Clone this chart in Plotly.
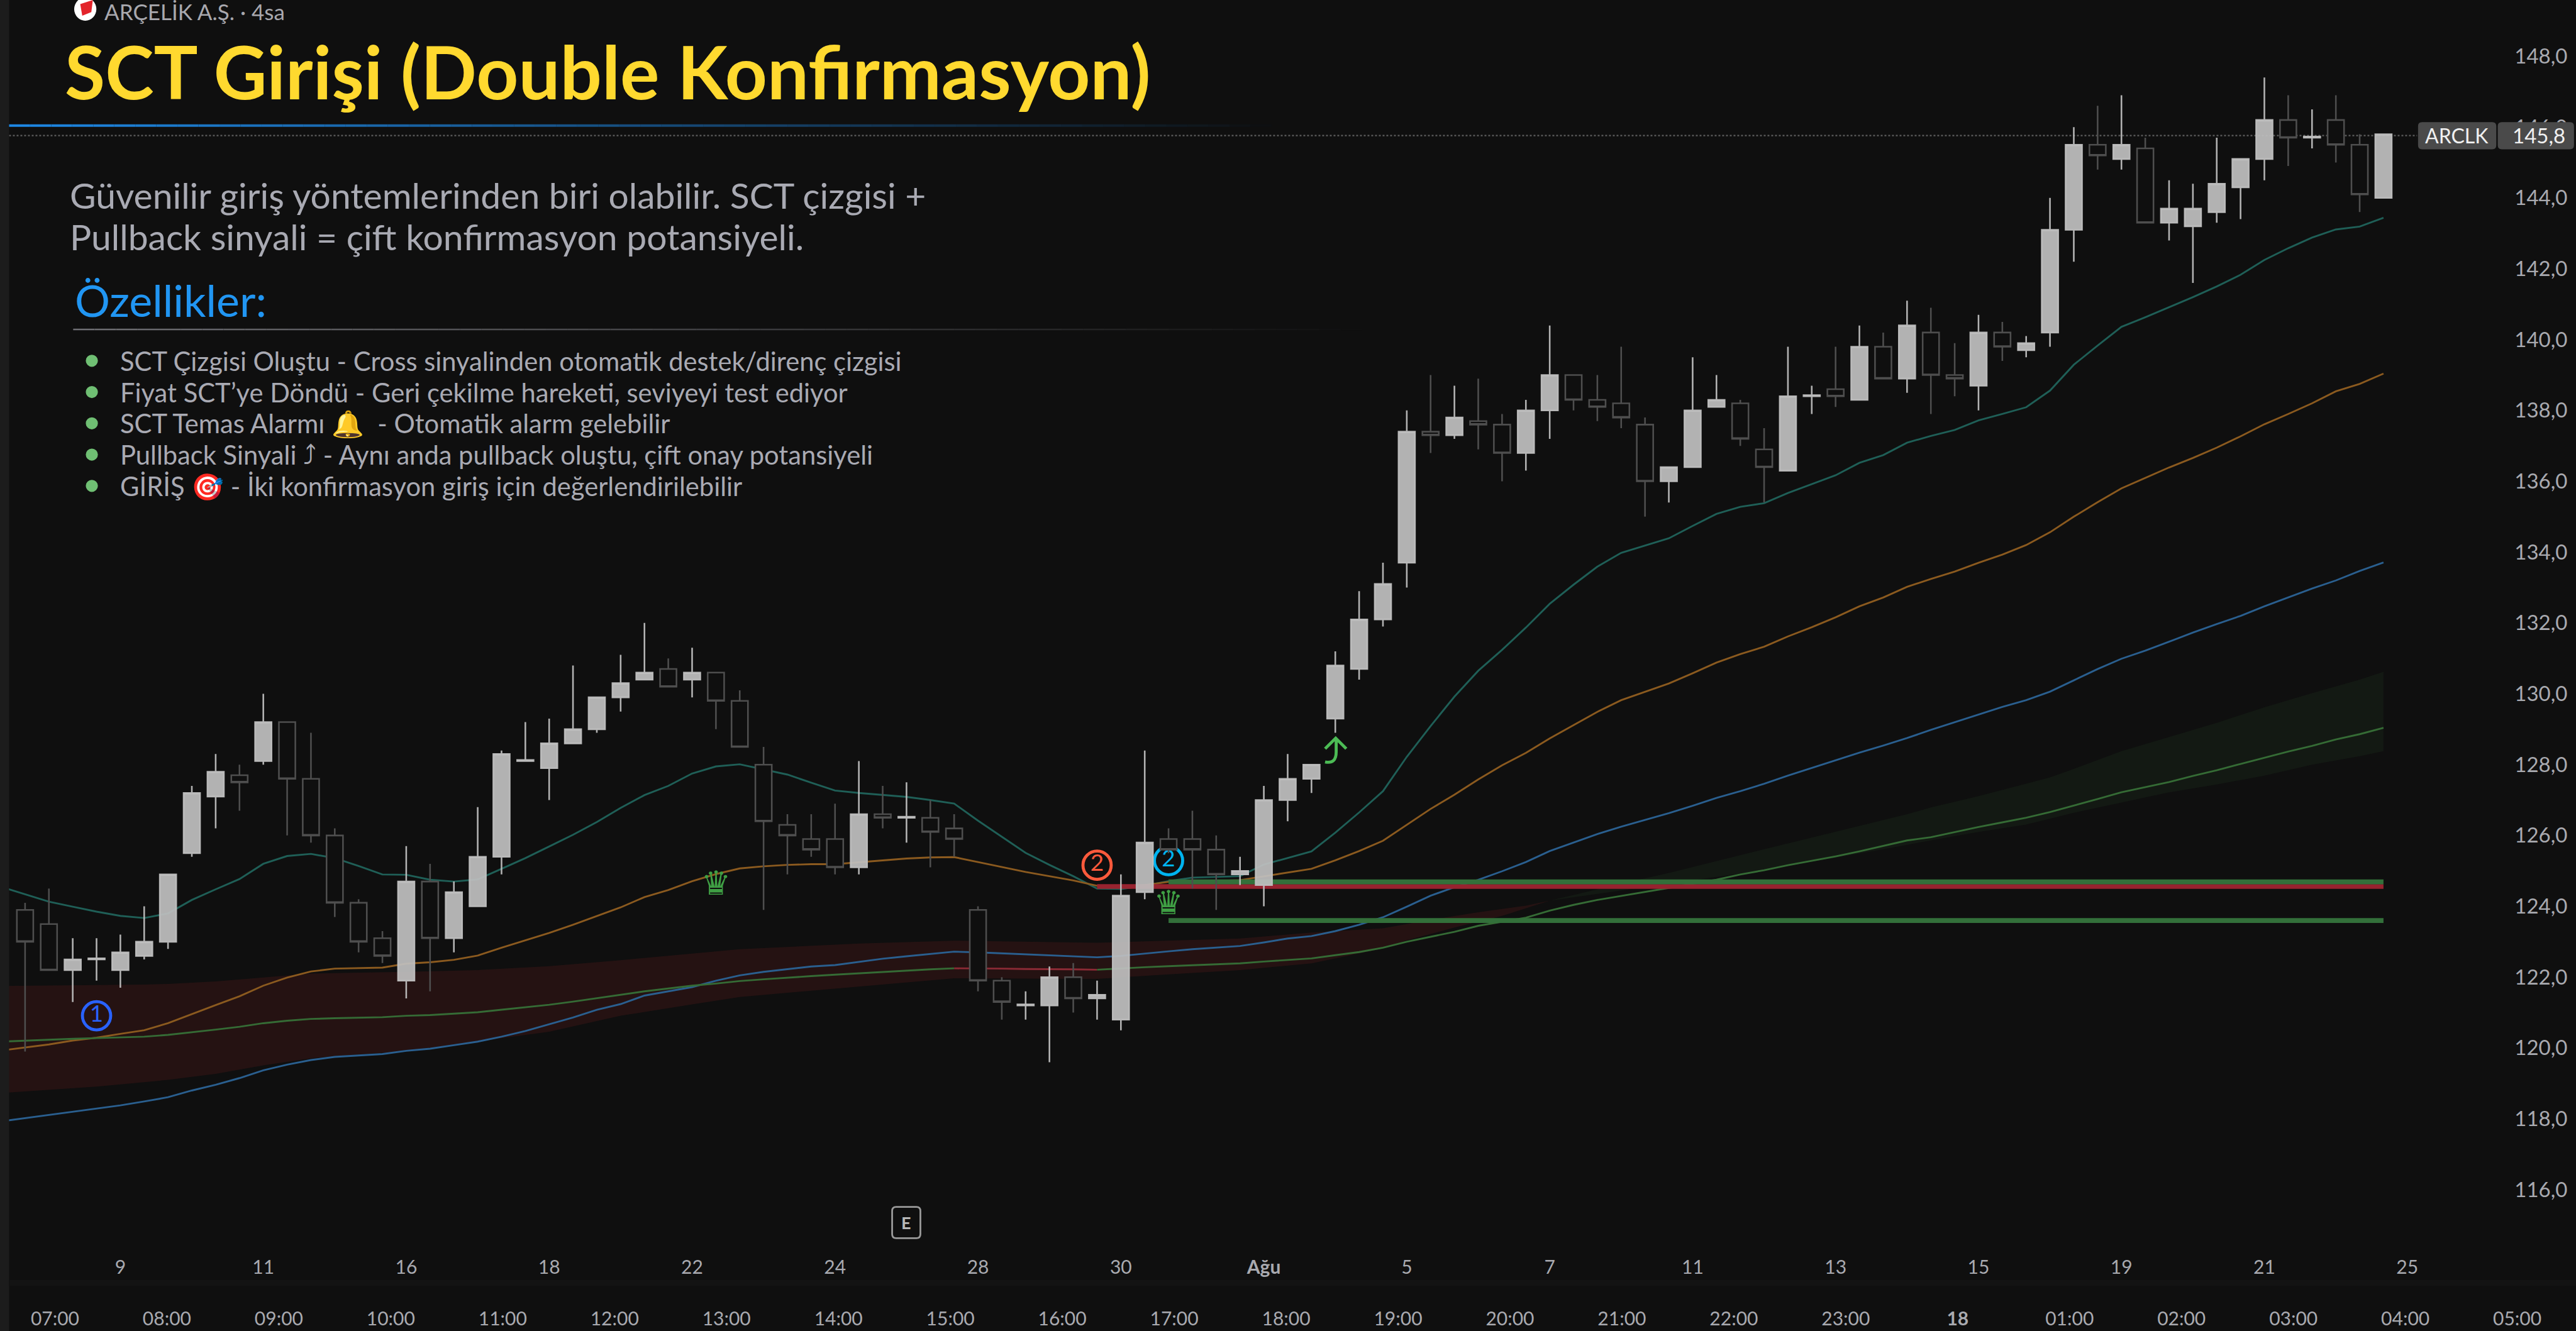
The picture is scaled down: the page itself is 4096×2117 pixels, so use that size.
import plotly.graph_objects as go

# ---------- data ----------
opens = [123.9,123.5,122.2,122.5,122.2,122.6,123.0,125.5,127.1,127.7,
128.1,129.2,127.6,126.0,124.1,123.1,121.9,124.7,123.1,124.0,
125.4,128.1,127.9,128.6,129.0,129.9,130.4,130.7,130.4,130.6,
129.8,128.0,126.3,125.9,125.9,125.1,126.6,126.5,126.5,126.2,
123.9,121.9,121.2,121.2,122.0,121.4,120.8,124.4,125.9,125.9,
125.6,124.9,124.6,127.0,127.6,129.3,130.7,132.1,133.7,137.4,
137.3,137.7,137.6,136.8,138.0,139.0,138.3,138.2,137.6,136.0,
136.4,138.1,138.2,136.9,136.3,138.4,138.6,138.3,139.8,138.9,
140.2,139.0,138.7,140.2,139.7,140.2,143.1,145.5,145.1,145.4,
143.3,143.2,143.6,144.3,145.1,146.2,145.7,146.2,145.5,144.0]
closes = [123.0,122.2,122.5,122.53,122.7,123.0,124.9,127.2,127.8,127.5,
129.2,127.6,126.0,124.1,123.0,122.6,124.7,123.1,124.4,125.4,
128.3,128.13,128.6,129.0,129.9,130.3,130.6,130.2,130.6,129.8,
128.5,126.4,126.0,125.6,125.1,126.6,126.5,126.53,126.1,125.9,
121.9,121.3,121.23,122.0,121.4,121.5,124.3,125.8,125.6,125.6,
124.9,125.0,127.0,127.6,128.0,130.8,132.1,133.1,137.4,137.3,
137.8,137.6,136.8,138.0,139.0,138.3,138.1,137.8,136.0,136.4,
138.0,138.3,137.2,136.4,138.4,138.43,138.4,139.8,138.9,140.4,
139.0,138.9,140.2,139.8,139.9,143.1,145.5,145.2,145.5,143.3,
143.7,143.7,144.4,145.1,146.2,145.7,145.73,145.5,144.1,145.8]
highs = [124.1,124.5,123.1,123.1,123.2,124.0,124.9,127.4,128.3,128.0,
130.0,129.2,128.9,126.2,124.2,123.3,125.7,125.2,124.7,126.8,
128.4,129.2,129.3,130.8,129.9,131.1,132.0,131.0,131.3,130.6,
130.1,128.5,126.6,126.6,126.9,128.1,127.4,127.5,127.0,126.6,
124.0,122.0,121.6,122.3,122.4,121.9,124.9,128.4,126.2,126.7,
126.0,125.4,127.4,128.3,128.0,131.2,132.9,133.7,138.0,139.0,
138.7,138.9,137.9,138.3,140.4,139.0,139.0,139.8,137.8,136.4,
139.5,139.0,138.3,137.5,139.8,138.7,139.8,140.4,140.2,141.1,
140.9,139.9,140.7,140.5,140.1,144.0,146.0,146.6,146.9,145.7,
144.5,144.4,145.7,145.1,147.4,146.9,146.5,146.9,145.8,145.8]
lows = [119.9,122.2,121.3,121.9,121.7,122.5,122.8,125.4,126.2,126.7,
128.0,126.0,125.8,123.7,122.7,122.4,121.4,121.6,122.7,124.0,
124.9,128.1,127.0,128.6,128.9,129.5,130.4,130.2,129.9,129.0,
128.5,123.9,124.9,125.4,124.9,124.9,126.2,125.8,125.1,125.4,
121.6,120.8,120.8,119.6,121.0,120.8,120.5,124.2,125.5,124.5,
123.9,124.6,124.0,126.4,127.2,128.9,130.4,131.9,133.0,136.8,
137.2,136.9,136.0,136.3,137.2,138.0,137.7,137.5,135.0,135.4,
136.4,138.1,137.0,135.4,136.3,137.9,138.1,138.3,138.9,138.5,
137.9,138.4,138.0,139.4,139.5,139.8,142.2,144.8,144.8,143.3,
142.8,141.6,143.3,143.4,144.5,144.9,145.4,145.0,143.6,144.0]

line_x = list(range(-1, 100))
teal = [124.55,124.34,124.13,123.99,123.85,123.73,123.67,123.8,124.18,124.48,124.77,
125.2,125.42,125.48,125.36,125.14,124.9,124.89,124.75,124.7,124.76,
125.06,125.36,125.69,126.02,126.38,126.78,127.14,127.4,127.75,127.95,
128.01,127.87,127.72,127.49,127.27,127.2,127.14,127.09,127.0,126.9,
126.42,125.97,125.51,125.17,124.85,124.5,124.49,124.58,124.71,124.81,
124.83,124.85,125.18,125.37,125.55,126.08,126.65,127.25,128.22,129.09,
129.92,130.65,131.24,131.87,132.54,133.08,133.59,133.98,134.18,134.39,
134.74,135.08,135.28,135.38,135.67,135.92,136.17,136.52,136.74,137.09,
137.28,137.45,137.72,137.9,138.09,138.56,139.29,139.83,140.36,140.63,
140.91,141.2,141.5,141.83,142.25,142.58,142.88,143.11,143.19,143.44]
orange = [119.93,120.02,120.1,120.21,120.29,120.4,120.5,120.7,120.96,121.21,121.46,
121.76,121.99,122.16,122.24,122.26,122.27,122.38,122.42,122.49,122.61,
122.83,123.04,123.25,123.48,123.73,123.97,124.26,124.46,124.71,124.91,
125.07,125.13,125.17,125.19,125.19,125.24,125.3,125.35,125.38,125.39,
125.25,125.11,124.97,124.85,124.73,124.58,124.54,124.6,124.69,124.72,
124.72,124.74,124.85,124.95,125.06,125.3,125.56,125.85,126.3,126.75,
127.15,127.58,127.98,128.33,128.74,129.12,129.49,129.82,130.06,130.29,
130.58,130.88,131.12,131.33,131.62,131.88,132.16,132.47,132.72,133.02,
133.24,133.45,133.7,133.93,134.2,134.56,135.0,135.41,135.8,136.09,
136.39,136.66,136.95,137.27,137.61,137.9,138.2,138.54,138.75,139.04]
blue = [117.93,118.02,118.11,118.19,118.29,118.38,118.49,118.61,118.8,118.96,119.15,
119.37,119.53,119.66,119.75,119.79,119.83,119.92,119.98,120.08,120.18,
120.32,120.48,120.67,120.86,121.08,121.24,121.48,121.6,121.72,121.9,
122.05,122.15,122.23,122.3,122.34,122.43,122.52,122.59,122.65,122.72,
122.7,122.67,122.64,122.61,122.59,122.56,122.6,122.67,122.73,122.79,
122.83,122.88,122.98,123.09,123.16,123.3,123.48,123.69,123.99,124.3,
124.54,124.75,124.99,125.25,125.56,125.8,126.04,126.25,126.44,126.63,
126.84,127.06,127.25,127.46,127.69,127.91,128.13,128.34,128.54,128.75,
128.98,129.2,129.42,129.63,129.82,130.06,130.38,130.7,130.99,131.22,
131.47,131.73,131.97,132.2,132.47,132.72,132.97,133.2,133.47,133.71]
green = [120.18,120.21,120.23,120.26,120.28,120.3,120.32,120.37,120.44,120.52,120.6,
120.7,120.77,120.82,120.84,120.85,120.87,120.91,120.93,120.97,121.01,
121.08,121.15,121.22,121.31,121.41,121.5,121.6,121.68,121.76,121.82,
121.89,121.94,121.99,122.03,122.07,122.11,122.15,122.19,122.22,122.25,
122.25,122.24,122.23,122.23,122.22,122.21,122.25,122.28,122.31,122.34,
122.36,122.39,122.44,122.49,122.53,122.62,122.71,122.83,123.0,123.14,
123.28,123.45,123.57,123.68,123.88,124.04,124.18,124.29,124.4,124.52,
124.64,124.75,124.9,125.02,125.16,125.28,125.41,125.55,125.7,125.86,
125.95,126.1,126.24,126.37,126.5,126.66,126.84,127.03,127.22,127.37,
127.51,127.68,127.84,128.02,128.2,128.37,128.53,128.71,128.86,129.04]

red_top_x = [-1,5,6,8,10,12,14,16,19,22,25,28,30,35,39,45,48,51,54,57,59,61,63,64]
red_top_y = [121.75,121.79,121.81,121.88,121.99,122.1,122.13,122.15,122.2,122.31,122.48,122.67,122.79,122.95,123.03,122.97,123.03,123.09,123.26,123.38,123.62,123.83,124.02,124.16]
red_bot_x = [-1,3,6,8,10,12,14,16,19,22,25,28,30,35,39,45,48,51,54,57,58,60,62,64]
red_bot_y = [118.73,118.91,119.1,119.27,119.51,119.71,119.82,119.91,120.18,120.46,120.91,121.23,121.44,121.74,121.97,121.95,122.08,122.2,122.39,122.81,123.04,123.4,123.73,124.16]
green_top_x = [64,65,67,69,71,73,75,77,79,80,82,84,85,86,88,90,92,94,96,98,99]
green_top_y = [124.16,124.32,124.64,124.94,125.28,125.61,125.94,126.27,126.6,126.79,127.11,127.46,127.64,127.88,128.38,128.78,129.18,129.62,130.02,130.4,130.62]
green_bot_x = [64,66,68,70,72,74,76,78,79,80,82,84,86,88,90,92,94,96,98,99]
green_bot_y = [124.16,124.35,124.54,124.73,124.93,125.16,125.37,125.61,125.73,125.86,126.1,126.31,126.64,126.93,127.22,127.44,127.69,128.0,128.24,128.38]

level_red = 124.56
level_green_up = 124.69
level_green_low = 123.6
last_price = 145.76

price_ticks = list(range(116, 150, 2))
date_vals = [4,10,16,22,28,34,40,46,52,58,64,70,76,82,88,94,100]
date_text = ["9","11","16","18","22","24","28","30","<b>Ağu</b>","5","7","11","13","15","19","21","25"]
hour_text = ["07:00","08:00","09:00","10:00","11:00","12:00","13:00","14:00","15:00","16:00","17:00",
             "18:00","19:00","20:00","21:00","22:00","23:00","<b>18</b>","01:00","02:00","03:00","04:00","05:00"]
hour_vals = list(range(len(hour_text)))

title = "SCT Girişi (Double Konfirmasyon)"
ticker = "ARÇELİK A.Ş. · 4sa"
intro = ["Güvenilir giriş yöntemlerinden biri olabilir. SCT çizgisi +",
         "Pullback sinyali = çift konfirmasyon potansiyeli."]
heading = "Özellikler:"
bullets = ["SCT Çizgisi Oluştu - Cross sinyalinden otomatik destek/direnç çizgisi",
           "Fiyat SCT’ye Döndü - Geri çekilme hareketi, seviyeyi test ediyor",
           "SCT Temas Alarmı 🔔\u00a0 - Otomatik alarm gelebilir",
           "Pullback Sinyali ⤴ - Aynı anda pullback oluştu, çift onay potansiyeli",
           "GİRİŞ 🎯 - İki konfirmasyon giriş için değerlendirilebilir"]

# ---------- geometry of the reference (full size px) ----------
W, H = 5105.0, 2638.0
S = 4096.0 / W
def rx(p): return p / W
def ry(p): return 1 - p / H
def px(p): return p * S
# candle i sits at 49.7 + 47.21 i ; price v at 111.5 + (148 - v) * 70.2
X_RANGE = [(0 - 49.7) / 47.21, (W - 49.7) / 47.21]
Y_RANGE = [148 - (H - 111.5) / 70.2, 148 + 111.5 / 70.2]
H_RANGE = [(0 - 109) / 221.8, (W - 109) / 221.8]
BG = "#0f0f0f"
FONT = "Lato"

fig = go.Figure()
def band(xa, ya, xb, yb, color):
    fig.add_trace(go.Scatter(x=xa + xb[::-1], y=ya + yb[::-1], mode="lines", fill="toself",
                             fillcolor=color, line=dict(width=0), hoverinfo="skip"))
band(red_top_x, red_top_y, red_bot_x, red_bot_y, "rgba(120,30,30,0.22)")
band(green_top_x, green_top_y, green_bot_x, green_bot_y, "rgba(60,120,60,0.10)")

LW = px(3.6)
def line(x, y, color, width=LW):
    fig.add_trace(go.Scatter(x=x, y=y, mode="lines", line=dict(color=color, width=width), hoverinfo="skip"))
line(line_x, teal, "#1f5f57")
line(line_x, orange, "#8b5a1f")
line(line_x, blue, "#2a5f8f")
line(line_x[:41], green[:41], "#356b35")
line(line_x[40:47], green[40:47], "#8b2a35")
line(line_x[46:], green[46:], "#356b35")

TH = px(9.5)
line([45, 99], [level_red, level_red], "#98232f", TH)
line([48, 99], [level_green_up, level_green_up], "#33703a", TH)
line([48, 99], [level_green_low, level_green_low], "#33703a", TH)

def ring(i, v, label, color):
    fig.add_trace(go.Scatter(x=[i], y=[v], mode="markers+text", text=[label], textposition="middle center",
                             textfont=dict(family=FONT, size=px(46), color=color),
                             marker=dict(symbol="circle-open", size=px(56), color=color,
                                         line=dict(color=color, width=px(6))),
                             hoverinfo="skip"))
ring(3, 120.91, "1", "#2962ff")
ring(45, 125.16, "2", "#ff5a3c")
ring(48, 125.29, "2", "#00b4f0")

for i, v in [(29, 124.57), (48, 124.02)]:
    fig.add_trace(go.Scatter(x=[i], y=[v], mode="text", text=["♛"], textposition="middle center",
                             textfont=dict(family="DejaVu Sans", size=px(66), color="#3f9f44"), hoverinfo="skip"))

fig.add_trace(go.Candlestick(
    x=list(range(100)), open=opens, high=highs, low=lows, close=closes, xaxis="x3", yaxis="y2",
    increasing=dict(line=dict(color="rgba(190,190,190,0.94)", width=px(3.2)), fillcolor="rgba(192,192,192,0.92)"),
    decreasing=dict(line=dict(color="#4e4e4e", width=px(3.2)), fillcolor=BG),
    whiskerwidth=0, hoverinfo="skip"))

# ---------- page furniture ----------
shapes = []
def rect(x0, y0, x1, y1, color):
    shapes.append(dict(type="rect", xref="paper", yref="paper", x0=rx(x0), x1=rx(x1), y0=ry(y1), y1=ry(y0),
                       fillcolor=color, line=dict(width=0), layer="above"))
def rounded(x0, y0, x1, y1, r, fill, stroke=None, sw=0):
    a, b, c, d = rx(x0), rx(x1), ry(y0), ry(y1)
    ex, ey = r / W, r / H
    path = (f"M {a+ex} {c} L {b-ex} {c} Q {b} {c} {b} {c-ey} L {b} {d+ey} Q {b} {d} {b-ex} {d} "
            f"L {a+ex} {d} Q {a} {d} {a} {d+ey} L {a} {c-ey} Q {a} {c} {a+ex} {c} Z")
    shapes.append(dict(type="path", xref="paper", yref="paper", path=path, fillcolor=fill,
                       line=dict(color=stroke or fill, width=px(sw)), layer="above"))

rect(0, 0, 18, H, "#1c1c1c")
rect(18, 2537, W, 2549, "#131313")

# fading rule under the title and under the heading
N = 60
for k in range(N):
    x0 = 18 + (2520 - 18) * k / N
    x1 = 18 + (2520 - 18) * (k + 1) / N
    a = 1 - k / N
    shapes.append(dict(type="line", xref="paper", yref="paper", x0=rx(x0), x1=rx(x1), y0=ry(249), y1=ry(249),
                       line=dict(color=f"rgba(30,136,229,{a:.3f})", width=px(5)), layer="above"))
    x0 = 145 + (2700 - 145) * k / N
    x1 = 145 + (2700 - 145) * (k + 1) / N
    shapes.append(dict(type="line", xref="paper", yref="paper", x0=rx(x0), x1=rx(x1), y0=ry(653), y1=ry(653),
                       line=dict(color=f"rgba(110,110,115,{a:.3f})", width=px(3)), layer="above"))

# last price line and tag
shapes.append(dict(type="line", xref="paper", yref="y", x0=rx(18), x1=rx(4790), y0=last_price, y1=last_price,
                   line=dict(color="#5e5e5e", width=px(3), dash="dot"), layer="below"))
rounded(4792, 242, 4947, 296, 8, "#4a4a4a")
rounded(4950, 242, 5101, 296, 8, "#4a4a4a")
# logo
shapes.append(dict(type="circle", xref="paper", yref="paper", x0=rx(147), x1=rx(191), y0=ry(41), y1=ry(-5),
                   fillcolor="#ffffff", line=dict(width=0), layer="above"))
shapes.append(dict(type="path", xref="paper", yref="paper", layer="above", fillcolor="#e3242b", line=dict(width=0),
                   path=f"M {rx(159)} {ry(8)} L {rx(184)} {ry(0)} L {rx(181)} {ry(24)} L {rx(163)} {ry(31)} Z"))
# E badge
rounded(1768, 2392, 1824, 2454, 8, "rgba(0,0,0,0)", "#9a9a9a", 3.5)
# bullets
for y in [715, 777, 839, 901, 963]:
    shapes.append(dict(type="circle", xref="paper", yref="paper", x0=rx(170), x1=rx(194), y0=ry(y + 12), y1=ry(y - 12),
                       fillcolor="#6fbf73", line=dict(width=0), layer="above"))
# pullback arrow icon
def P(x, y): return f"{rx(x)} {ry(y)}"
shapes.append(dict(type="path", xref="paper", yref="paper", layer="above", line=dict(color="#4cbb55", width=px(6)),
                   path=f"M {P(2626,1510)} Q {P(2648,1515)} {P(2648,1490)} L {P(2648,1463)} M {P(2626,1484)} L {P(2647,1463)} L {P(2668,1484)}"))

ann = []
def text(x, y, s, size, color, anchor="left", **kw):
    ann.append(dict(xref="paper", yref="paper", x=rx(x), y=ry(y), text=s, showarrow=False, xanchor=anchor,
                    yanchor="middle", align=anchor, font=dict(family=kw.get("family", FONT), size=size, color=color)))
text(204, 22, ticker, 35, "#a8a8ae")
text(126, 141, f"<b>{title}</b>", 117, "#ffd92f")
text(136, 386, intro[0], 57, "#a9aab3")
text(136, 468, intro[1], 57, "#a9aab3")
text(146, 594, heading, 70, "#2196f3")
for y, s in zip([715, 777, 839, 901, 963], bullets):
    text(236, y, s, 41.7, "#a9aab3")
text(4869, 268, "ARCLK", 32, "#f0f0f0", "center")
text(5031, 268, "145,8", 33, "#f0f0f0", "center")
text(1796, 2423, "<b>E</b>", 27, "#b8b8b8", "center")

axis_font = dict(family=FONT, size=30, color="#a9aab0")
fig.update_layout(
    width=4096, height=2117, margin=dict(l=0, r=0, t=0, b=0), paper_bgcolor=BG, plot_bgcolor=BG,
    showlegend=False, boxgap=0.17, boxgroupgap=0.17, shapes=shapes, annotations=ann,
    xaxis=dict(range=X_RANGE, anchor="free", position=ry(2486), side="bottom", showgrid=False, zeroline=False,
               showline=False, ticks="", tickmode="array", tickvals=date_vals, ticktext=date_text,
               tickfont=axis_font, ticklabeloverflow="allow"),
    xaxis2=dict(range=H_RANGE, overlaying="x", anchor="free", position=ry(2588), side="bottom", showgrid=False,
                zeroline=False, showline=False, ticks="", tickmode="array", tickvals=hour_vals, ticktext=hour_text,
                tickfont=axis_font, ticklabeloverflow="allow"),
    xaxis3=dict(range=X_RANGE, overlaying="x", anchor="y2", visible=False, rangeslider=dict(visible=False)),
    yaxis=dict(range=Y_RANGE, anchor="free", position=rx(4982), side="right", showgrid=False, zeroline=False,
               showline=False, ticks="", tickmode="array", tickvals=price_ticks,
               ticktext=[f"{v},0" for v in price_ticks],
               tickfont=dict(family=FONT, size=33, color="#a9aab0"), ticklabeloverflow="allow"),
    yaxis2=dict(range=Y_RANGE, overlaying="y", anchor="x3", visible=False),
)
# hours axis needs a trace to exist
fig.add_trace(go.Scatter(x=[0], y=[116], xaxis="x2", mode="markers", marker=dict(opacity=0, size=1), hoverinfo="skip"))
fig.write_html("out.html", config=dict(displayModeBar=False),
               post_script="document.body.style.margin='0';document.body.style.background='#0f0f0f';document.documentElement.style.overflow='hidden';")
